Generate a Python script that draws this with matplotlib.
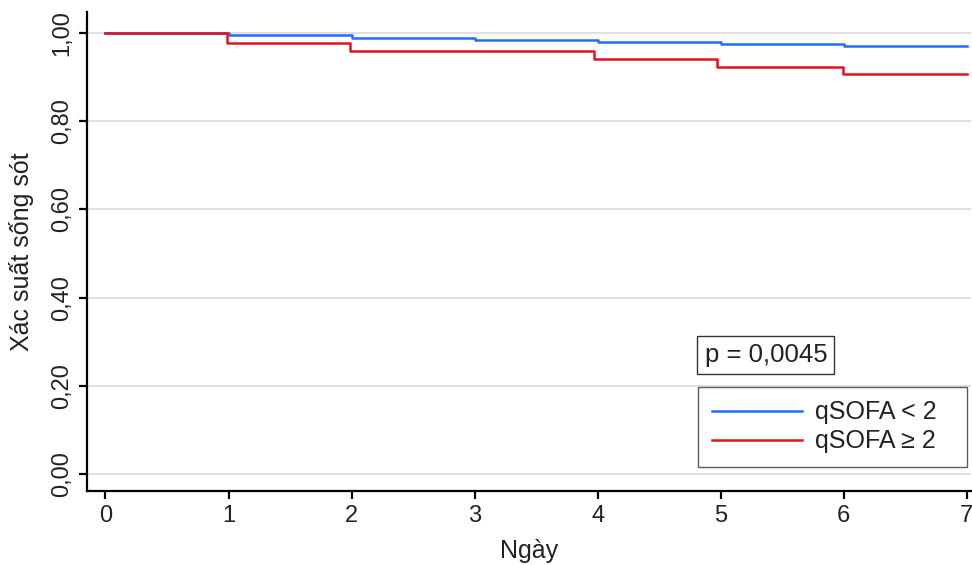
import numpy as np
import matplotlib.pyplot as plt

plt.rcParams['font.family'] = ['Liberation Sans', 'DejaVu Sans']

# Kaplan-Meier step values
t_low = [0, 1, 2, 3, 4, 5, 6, 7]
s_low = [1.000, 0.995, 0.989, 0.984, 0.980, 0.975, 0.971, 0.971]
t_high = [0, 0.99, 1.99, 3.97, 4.97, 5.99, 7]
s_high = [1.000, 0.978, 0.960, 0.940, 0.924, 0.906, 0.906]

xticks = [0, 1, 2, 3, 4, 5, 6, 7]
yticks = [0.0, 0.2, 0.4, 0.6, 0.8, 1.0]
ytick_labels = ['0,00', '0,20', '0,40', '0,60', '0,80', '1,00']

fig = plt.figure(figsize=(9.72, 5.65), dpi=100)
ax = fig.add_axes([0.0895, 0.131, 0.909, 0.848])

for y in yticks:
    ax.axhline(y, color='#dcdcdc', lw=1.3, zorder=0)

ax.step(t_low, s_low, where='post', color='#1e6eff', lw=1.8, label='qSOFA < 2')
ax.step(t_high, s_high, where='post', color='#e3121c', lw=1.8, label='qSOFA ≥ 2')

ax.set_xlim(-0.15, 7.03)
ax.set_ylim(-0.0385, 1.048)
ax.set_xticks(xticks)
ax.set_yticks(yticks)
ax.set_yticklabels(ytick_labels, rotation=90, va='center')
ax.tick_params(axis='both', direction='out', length=6, width=1.6, labelsize=17,
               colors='black', labelcolor='#222222', pad=4)

for s in ['top', 'right']:
    ax.spines[s].set_visible(False)
for s in ['left', 'bottom']:
    ax.spines[s].set_linewidth(1.6)

ax.set_xlabel('Ngày', fontsize=18, color='#222222', labelpad=9)
ax.set_ylabel('Xác suất sống sót', fontsize=18, color='#222222', labelpad=12)

ax.text(0.699, 0.284, 'p = 0,0045', transform=ax.transAxes, fontsize=18.5,
        va='center', ha='left', color='#222222',
        bbox=dict(boxstyle='square,pad=0.28', fc='white', ec='#333333', lw=1))

leg = ax.legend(loc='lower left', bbox_to_anchor=(0.692, 0.05, 0.3035, 0.175),
                mode='expand', fontsize=18,
                frameon=True, fancybox=False, edgecolor='#333333',
                handlelength=3.6, handletextpad=0.5, borderpad=0.55,
                labelspacing=0.2, borderaxespad=0)
leg.get_frame().set_linewidth(1)
for txt in leg.get_texts():
    txt.set_color('#222222')

fig.savefig('out.png', dpi=100)
